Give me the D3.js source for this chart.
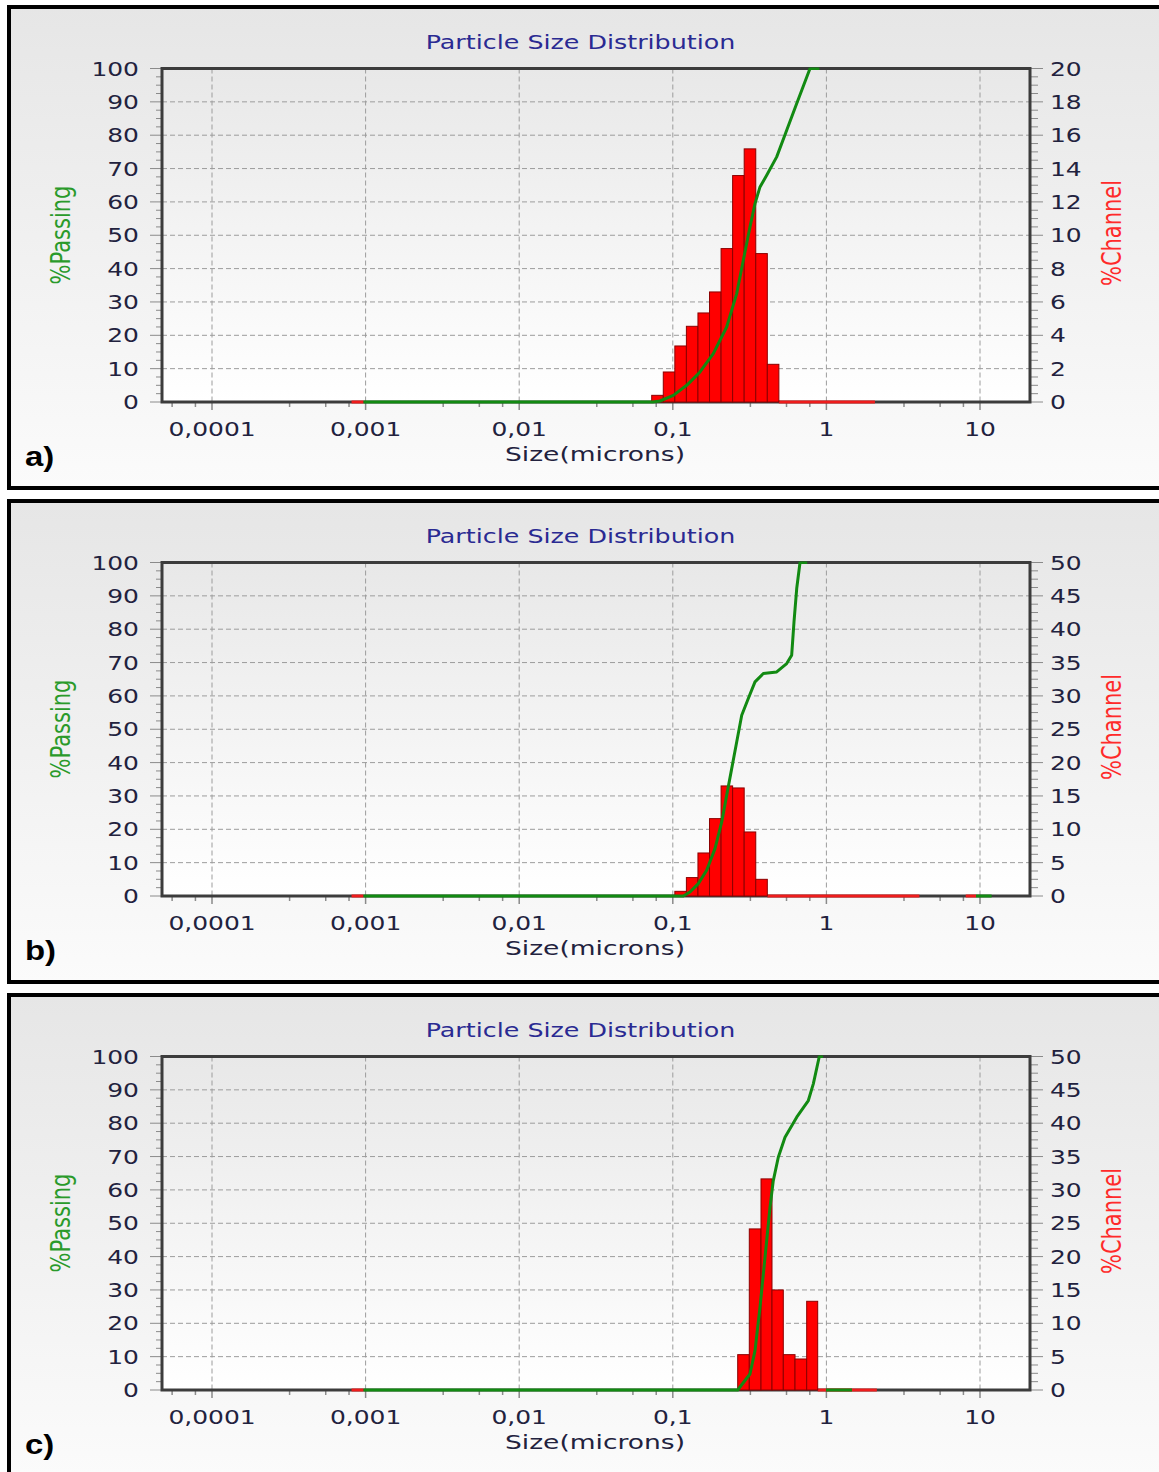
<!DOCTYPE html>
<html>
<head>
<meta charset="utf-8">
<script src="https://cdn.jsdelivr.net/npm/d3@7"></script>
<style>
  body { margin: 0; background: #fff; }
  svg { display: block; }
  text { font-family: "DejaVu Sans", Verdana, sans-serif; }
</style>
</head>
<body>
<svg id="chart" width="1159" height="1472"></svg>
<script>
// axis ticks
const sizeTicks = [0.0001, 0.001, 0.01, 0.1, 1, 10];
const sizeTickLabels = ["0,0001", "0,001", "0,01", "0,1", "1", "10"];
const minorMults = [3.2, 5.5, 7.8];
const passTicks = [0, 10, 20, 30, 40, 50, 60, 70, 80, 90, 100];
const panelNames = ["a)", "b)", "c)"];
const channelMax = [20, 50, 50];
const channelStep = [2, 5, 5];

// panel a
const edgesA = [0.0729, 0.0867, 0.1031, 0.1226, 0.1458, 0.1734, 0.2062, 0.2452, 0.2916, 0.3468, 0.4124, 0.4904];
const channelA = [0.4, 1.8, 3.36, 4.54, 5.34, 6.6, 9.2, 13.58, 15.18, 8.9, 2.26];
const passSizeA = [0.00097, 0.0743, 0.0825, 0.1008, 0.1232, 0.1504, 0.1835, 0.2243, 0.2606, 0.2877, 0.3181, 0.3429, 0.3696, 0.4086, 0.4747, 0.5514, 0.6408, 0.7821, 0.9];
const passA = [0, 0, 0.3, 2.0, 5.0, 9.0, 14.5, 22.5, 32.5, 42.5, 52.5, 59.5, 64.5, 68.0, 73.5, 81.5, 89.5, 100, 100];
const redBaseA = [[0.00081, 0.00097], [0.4904, 2.07]];
const greenBaseA = [];

// panel b
const edgesB = [0.1031, 0.1226, 0.1458, 0.1734, 0.2062, 0.2452, 0.2916, 0.3468, 0.4124];
const channelB = [0.7, 2.76, 6.45, 11.6, 16.5, 16.2, 9.6, 2.5];
const passSizeB = [0.00097, 0.1171, 0.1294, 0.1466, 0.1662, 0.1882, 0.2082, 0.2243, 0.2418, 0.2606, 0.2810, 0.3101, 0.3429, 0.3884, 0.4747, 0.5514, 0.5942, 0.6153, 0.6408, 0.6733, 0.75];
const passB = [0, 0, 1.2, 3.7, 7.7, 14.2, 22.2, 30.2, 38.2, 46.2, 54.2, 59.2, 64.2, 66.7, 67.2, 69.7, 72.2, 82.2, 92.2, 100, 100];
const redBaseB = [[0.00081, 0.00097], [0.4124, 4.03], [8.07, 9.42]];
const greenBaseB = [[9.42, 11.9]];

// panel c
const edgesC = [0.2646, 0.3148, 0.3752, 0.4424, 0.5241, 0.6248, 0.7442, 0.8777];
const channelC = [5.3, 24.15, 31.65, 15.0, 5.3, 4.65, 13.3];
const passSizeC = [0.00097, 0.2646, 0.3181, 0.3429, 0.3696, 0.3984, 0.4294, 0.4511, 0.4862, 0.5377, 0.6408, 0.7627, 0.8219, 0.899, 0.95];
const passC = [0, 0, 4.8, 11.8, 24.8, 39.8, 54.8, 62.8, 69.8, 75.8, 81.8, 86.8, 91.8, 100, 100];
const redBaseC = [[0.00081, 0.00097], [0.8777, 2.13]];
const greenBaseC = [[0.994, 1.468]];

const panels = [
  { edges: edgesA, channel: channelA, passSize: passSizeA, pass: passA, redBase: redBaseA, greenBase: greenBaseA },
  { edges: edgesB, channel: channelB, passSize: passSizeB, pass: passB, redBase: redBaseB, greenBase: greenBaseB },
  { edges: edgesC, channel: channelC, passSize: passSizeC, pass: passC, redBase: redBaseC, greenBase: greenBaseC }
];

const svg = d3.select("#chart");
const defs = svg.append("defs");

let g1 = defs.append("linearGradient").attr("id", "panelBg").attr("x1", 0).attr("y1", 0).attr("x2", 0).attr("y2", 1);
g1.append("stop").attr("offset", "0%").attr("stop-color", "#e6e6e6");
g1.append("stop").attr("offset", "100%").attr("stop-color", "#fbfbfb");
let g2 = defs.append("linearGradient").attr("id", "plotBg").attr("x1", 0).attr("y1", 0).attr("x2", 0).attr("y2", 1);
g2.append("stop").attr("offset", "0%").attr("stop-color", "#e8e8e8");
g2.append("stop").attr("offset", "100%").attr("stop-color", "#ffffff");

const tickColor = "#22223e";
const fontSize = 19.5;

// text stretched horizontally like the original screenshot
function stretchText(parent, str, x, y, opts) {
  opts = opts || {};
  let sx = opts.sx || 1.28;
  let t = parent.append("text")
    .attr("transform", "translate(" + x + "," + y + ") scale(" + sx + ",1)" + (opts.rotate ? " rotate(" + opts.rotate + ")" : ""))
    .attr("text-anchor", opts.anchor || "start")
    .attr("font-size", opts.size || fontSize)
    .attr("fill", opts.color || tickColor)
    .text(str);
  if (opts.weight) t.attr("font-weight", opts.weight);
  if (opts.family) t.style("font-family", opts.family);
  return t;
}

const x = d3.scaleLog().domain([0.0001, 10]).range([212, 980]);
const plotLeft = 162, plotRight = 1030;

panels.forEach((p, k) => {
  const off = k * 494;
  const top = 68.5 + off, bottom = 402 + off;
  const g = svg.append("g");

  // panel frame
  g.append("rect").attr("x", 9).attr("y", 7 + off).attr("width", 1160).attr("height", 481)
    .attr("fill", "url(#panelBg)").attr("stroke", "#000").attr("stroke-width", 4);

  const yL = d3.scaleLinear().domain([0, 100]).range([bottom, top]);
  const yR = d3.scaleLinear().domain([0, channelMax[k]]).range([bottom, top]);

  g.append("rect").attr("x", plotLeft).attr("y", top).attr("width", plotRight - plotLeft).attr("height", bottom - top)
    .attr("fill", "url(#plotBg)");

  const clipId = "clip" + k;
  defs.append("clipPath").attr("id", clipId).append("rect")
    .attr("x", plotLeft).attr("y", top - 1).attr("width", plotRight - plotLeft).attr("height", bottom - top + 3);

  // grid
  g.selectAll(".hgrid").data(passTicks.slice(1, -1)).enter().append("line")
    .attr("x1", plotLeft).attr("x2", plotRight)
    .attr("y1", d => yL(d)).attr("y2", d => yL(d))
    .attr("stroke", "#9c9c9c").attr("stroke-width", 1).attr("stroke-dasharray", "5,3");
  g.selectAll(".vgrid").data(sizeTicks).enter().append("line")
    .attr("x1", d => x(d)).attr("x2", d => x(d))
    .attr("y1", top).attr("y2", bottom)
    .attr("stroke", "#9c9c9c").attr("stroke-width", 1).attr("stroke-dasharray", "5,3");

  // left axis ticks
  const minorL = d3.range(0, 100.1, 2.5).filter(v => v % 10 !== 0);
  g.selectAll(".lminor").data(minorL).enter().append("line")
    .attr("x1", plotLeft - 6).attr("x2", plotLeft).attr("y1", d => yL(d)).attr("y2", d => yL(d))
    .attr("stroke", "#8a8a8a").attr("stroke-width", 1);
  g.selectAll(".lmajor").data(passTicks).enter().append("line")
    .attr("x1", plotLeft - 12).attr("x2", plotLeft).attr("y1", d => yL(d)).attr("y2", d => yL(d))
    .attr("stroke", "#8a8a8a").attr("stroke-width", 1);
  passTicks.forEach(v => stretchText(g, String(v), 139, yL(v) + 7, { anchor: "end" }));

  // right axis ticks
  const rTicks = d3.range(0, channelMax[k] + 0.01, channelStep[k]);
  const minorR = d3.range(0, channelMax[k] + 0.01, channelStep[k] / 4).filter((v, i) => i % 4 !== 0);
  g.selectAll(".rminor").data(minorR).enter().append("line")
    .attr("x1", plotRight).attr("x2", plotRight + 8).attr("y1", d => yR(d)).attr("y2", d => yR(d))
    .attr("stroke", "#8a8a8a").attr("stroke-width", 1);
  g.selectAll(".rmajor").data(rTicks).enter().append("line")
    .attr("x1", plotRight).attr("x2", plotRight + 13).attr("y1", d => yR(d)).attr("y2", d => yR(d))
    .attr("stroke", "#8a8a8a").attr("stroke-width", 1);
  rTicks.forEach(v => stretchText(g, String(v), 1050, yR(v) + 7, { anchor: "start" }));

  // x axis ticks
  let minorX = [];
  sizeTicks.concat([0.00001]).forEach(d => minorMults.forEach(m => {
    let v = d * m;
    if (x(v) > plotLeft && x(v) < plotRight) minorX.push(v);
  }));
  g.selectAll(".xminor").data(minorX).enter().append("line")
    .attr("x1", d => x(d)).attr("x2", d => x(d)).attr("y1", bottom).attr("y2", bottom + 5)
    .attr("stroke", "#8a8a8a").attr("stroke-width", 1.5);
  g.selectAll(".xmajor").data(sizeTicks).enter().append("line")
    .attr("x1", d => x(d)).attr("x2", d => x(d)).attr("y1", bottom).attr("y2", bottom + 8)
    .attr("stroke", "#8a8a8a").attr("stroke-width", 1.5);
  sizeTicks.forEach((v, i) => stretchText(g, sizeTickLabels[i], x(v), bottom + 34, { anchor: "middle" }));

  // plot frame
  g.append("rect").attr("x", plotLeft).attr("y", top).attr("width", plotRight - plotLeft).attr("height", bottom - top)
    .attr("fill", "none").attr("stroke", "#3c3c3c").attr("stroke-width", 3);

  const inner = g.append("g").attr("clip-path", "url(#" + clipId + ")");

  // red baseline of empty channels
  inner.selectAll(".rbase").data(p.redBase).enter().append("line")
    .attr("x1", d => x(d[0])).attr("x2", d => x(d[1])).attr("y1", bottom).attr("y2", bottom)
    .attr("stroke", "#ee1c1c").attr("stroke-width", 3);

  // bars
  inner.selectAll(".bar").data(p.channel).enter().append("rect")
    .attr("x", (d, i) => x(p.edges[i]))
    .attr("width", (d, i) => x(p.edges[i + 1]) - x(p.edges[i]))
    .attr("y", d => yR(d))
    .attr("height", d => bottom - yR(d))
    .attr("fill", "#ff0000").attr("stroke", "#8b0000").attr("stroke-width", 1);

  inner.selectAll(".gbase").data(p.greenBase).enter().append("line")
    .attr("x1", d => x(d[0])).attr("x2", d => x(d[1])).attr("y1", bottom).attr("y2", bottom)
    .attr("stroke", "#128a12").attr("stroke-width", 3);

  // %passing curve
  const line = d3.line().x(d => x(d[0])).y(d => yL(d[1]));
  inner.append("path").datum(p.passSize.map((s, i) => [s, p.pass[i]]))
    .attr("d", line).attr("fill", "none").attr("stroke", "#128a12").attr("stroke-width", 3)
    .attr("stroke-linejoin", "round");

  // labels
  stretchText(g, "Particle Size Distribution", 580.5, 48.5 + off, { anchor: "middle", color: "#2a2a92", sx: 1.3 });
  stretchText(g, "Size(microns)", 595, 461 + off, { anchor: "middle", sx: 1.36 });
  stretchText(g, "%Passing", 70, 235 + off, { anchor: "middle", color: "#2a9a2a", size: 21, rotate: -90 });
  stretchText(g, "%Channel", 1121, 233 + off, { anchor: "middle", color: "#ff2a2a", size: 21, rotate: -90 });
  stretchText(g, panelNames[k], 25, 466 + off, { size: 27, weight: "bold", family: "'Liberation Sans', Arial, sans-serif", color: "#000", sx: 1.22 });
});
</script>
</body>
</html>
